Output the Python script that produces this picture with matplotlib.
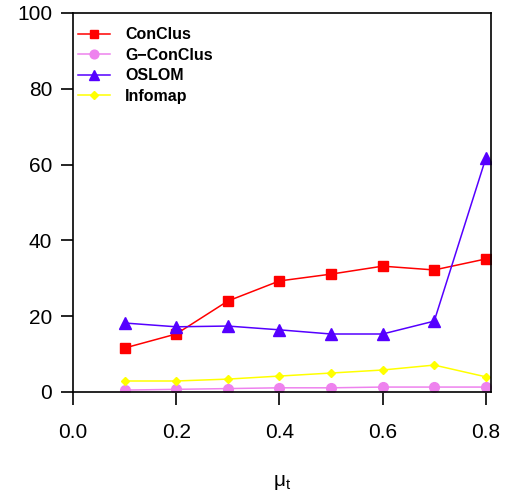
import matplotlib.pyplot as plt
import numpy as np

plt.rcParams['font.family'] = ['Liberation Sans', 'DejaVu Sans']

mu = [0.1, 0.2, 0.3, 0.4, 0.5, 0.6, 0.7, 0.8]
conclus = [11.6, 15.3, 24.0, 29.3, 31.1, 33.2, 32.2, 35.1]
gconclus = [0.5, 0.7, 0.9, 1.1, 1.1, 1.3, 1.3, 1.3]
oslom = [18.2, 17.2, 17.4, 16.4, 15.3, 15.3, 18.7, 61.7]
infomap = [2.9, 2.9, 3.4, 4.2, 5.0, 5.8, 7.1, 4.0]

fig = plt.figure(figsize=(5.08, 4.96), dpi=100)
ax = fig.add_axes([0.1437, 0.2097, 0.8228, 0.7641])

ax.plot(mu, conclus, color='#ff0000', marker='s', ms=7, lw=1.1, label='ConClus')
ax.plot(mu, gconclus, color='#ee82ee', marker='o', ms=7, lw=1.1, label='G\u2212ConClus')
ax.plot(mu, oslom, color='#5500ff', marker='^', ms=8.5, lw=1.1, label='OSLOM')
ax.plot(mu, infomap, color='#ffff00', marker='D', ms=4.5, lw=1.1, label='Infomap')

ax.set_xlim(0, 0.81)
ax.set_ylim(0, 100)
ax.set_xticks([0.0, 0.2, 0.4, 0.6, 0.8])
ax.set_xticklabels(['0.0', '0.2', '0.4', '0.6', '0.8'])
ax.set_yticks([0, 20, 40, 60, 80, 100])
ax.tick_params(direction='out', length=9, width=1.2, labelsize=15, pad=13)
ax.tick_params(axis='y', pad=6)
for s in ax.spines.values():
    s.set_linewidth(1.2)
ax.set_xlabel('$\\mathregular{\\mu_t}$', fontsize=15, labelpad=23)

leg = ax.legend(loc='upper left', bbox_to_anchor=(0.012, 0.962), frameon=False,
                fontsize=11.5, handlelength=2.0, borderaxespad=0, borderpad=0,
                labelspacing=0.34, handletextpad=0.95, markerscale=0.9)
for t in leg.get_texts():
    t.set_fontweight('bold')

fig.savefig('out.png', dpi=100)
